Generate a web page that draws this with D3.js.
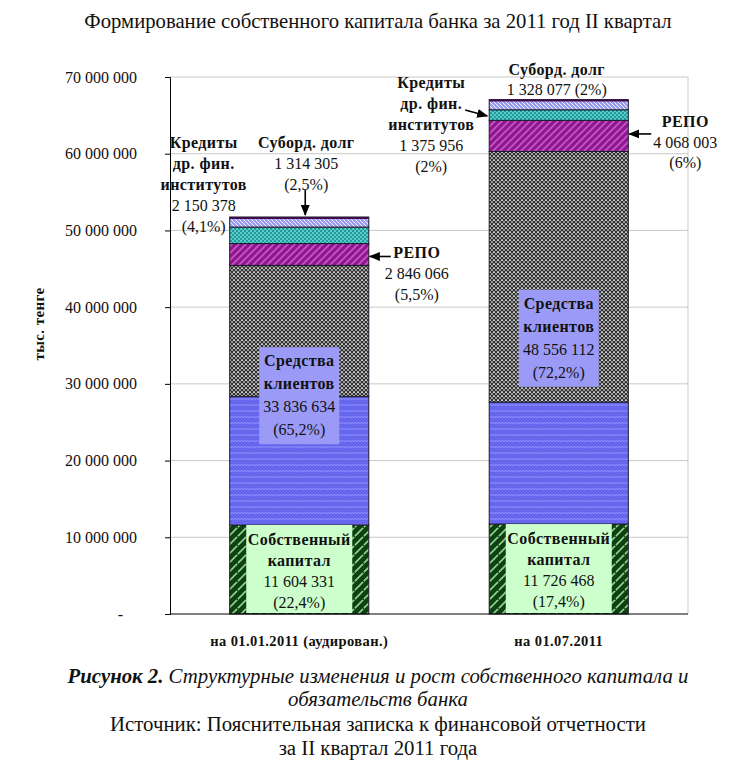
<!DOCTYPE html>
<html><head><meta charset="utf-8">
<script src="https://cdn.jsdelivr.net/npm/d3@7/dist/d3.min.js"></script>
<style>
html,body{margin:0;padding:0;background:#fff;}
svg{display:block;font-family:"Liberation Serif","Times New Roman",serif;}
svg text{font-family:"Liberation Serif","Times New Roman",serif;}
svg text.b{font-weight:bold;letter-spacing:0.4px;}
</style></head>
<body><svg id="c" width="737" height="763"></svg>
<script>
// ---------- data ----------
const categories = ["на 01.01.2011 (аудирован.)", "на 01.07.2011"];
const equity      = [11604331, 11726468];
const clientsBlue = [16730000, 15900000];
const clientsGray = [17106634, 32656112];
const repo        = [2846066, 4068003];
const credits     = [2150378, 1375956];
const subord      = [1314305, 1328077];
const clientsTotal = [33836634, 48556112];
const equityPct  = ["(22,4%)", "(17,4%)"];
const clientsPct = ["(65,2%)", "(72,2%)"];
const repoPct    = ["(5,5%)", "(6%)"];
const creditsPct = ["(4,1%)", "(2%)"];
const subordPct  = ["(2,5%)", "(2%)"];
const yTicks = [0, 10000000, 20000000, 30000000, 40000000, 50000000, 60000000, 70000000];
const title = "Формирование собственного капитала банка за 2011 год II квартал";
const yTitle = "тыс. тенге";

// ---------- setup ----------
const fmt = d3.formatLocale({decimal:",", thousands:"\u00a0", grouping:[3], currency:["",""]}).format(",");
const svg = d3.select("#c");
const L = 170, R = 688, T = 77, B = 614;
const y = d3.scaleLinear().domain([0, 70000000]).range([B, T]);
const x = d3.scaleBand().domain(categories).range([L, R]).paddingInner(0.464).paddingOuter(0.23);

const keys = ["equity","clientsBlue","clientsGray","repo","credits","subord"];
const rows = categories.map((c,i)=>({cat:c, equity:equity[i], clientsBlue:clientsBlue[i], clientsGray:clientsGray[i], repo:repo[i], credits:credits[i], subord:subord[i]}));
const stack = d3.stack().keys(keys)(rows);

// ---------- patterns ----------
const defs = svg.append("defs");
function pat(id, w, h, bg, draw){
  const p = defs.append("pattern").attr("id",id).attr("patternUnits","userSpaceOnUse").attr("width",w).attr("height",h);
  p.append("rect").attr("width",w).attr("height",h).attr("fill",bg);
  draw(p);
}
pat("pEquity", 9, 9, "#0e4012", p=>{
  p.append("path").attr("d","M0,9 L9,0 M-2,2 L2,-2 M7,11 L11,7").attr("stroke","#8ed48e").attr("stroke-width",1.6);
  p.append("path").attr("d","M2,4 L4,6").attr("stroke","#0e4012").attr("stroke-width",1.2);
});
pat("pBlue", 6, 6, "#6767ee", p=>{
  p.append("path").attr("d","M0,4 L1.5,2 L3,4 L4.5,2 L6,4").attr("fill","none").attr("stroke","#8e8eff").attr("stroke-width",1);
});
pat("pGray", 4, 4, "#9a9a9a", p=>{
  p.append("path").attr("d","M0,0 L4,4 M4,0 L0,4").attr("stroke","#262626").attr("stroke-width",0.9);
  p.append("rect").attr("x",1.5).attr("y",0).attr("width",1).attr("height",1).attr("fill","#ffffff");
});
pat("pRepo", 7, 7, "#8d178d", p=>{
  p.append("path").attr("d","M0,7 L7,0 M-1,1 L1,-1 M6,8 L8,6").attr("stroke","#c654c6").attr("stroke-width",1.8);
});
pat("pCredits", 4, 4, "#1f9c9c", p=>{
  p.append("rect").attr("x",0).attr("y",0).attr("width",2).attr("height",2).attr("fill","#5ec9c9");
  p.append("rect").attr("x",2).attr("y",2).attr("width",2).attr("height",2).attr("fill","#5ec9c9");
});
pat("pSubord", 4, 4, "#9d9def", p=>{
  p.append("path").attr("d","M0,0 L4,4 M-1,3 L1,5 M3,-1 L5,1").attr("stroke","#ececff").attr("stroke-width",1);
});
const fills = {equity:"url(#pEquity)", clientsBlue:"url(#pBlue)", clientsGray:"url(#pGray)", repo:"url(#pRepo)", credits:"url(#pCredits)", subord:"url(#pSubord)"};

// ---------- grid ----------
svg.append("g").selectAll("line").data(yTicks.filter(d=>d>0)).join("line")
  .attr("x1",L).attr("x2",R).attr("y1",d=>y(d)).attr("y2",d=>y(d))
  .attr("stroke","#c9c9c9").attr("stroke-width",1);
svg.append("line").attr("x1",R).attr("x2",R).attr("y1",T).attr("y2",B).attr("stroke","#c9c9c9");

// ---------- bars ----------
const gBars = svg.append("g");
stack.forEach(s=>{
  gBars.append("g").selectAll("rect").data(s).join("rect")
    .attr("x",d=>x(d.data.cat)).attr("width",x.bandwidth())
    .attr("y",d=>y(d[1])).attr("height",d=>y(d[0])-y(d[1]))
    .attr("fill",fills[s.key]).attr("stroke","#1b1b2b").attr("stroke-width",1);
});
const topS = stack[stack.length-1];
gBars.append("g").selectAll("line").data(topS).join("line")
  .attr("x1",d=>x(d.data.cat)).attr("x2",d=>x(d.data.cat)+x.bandwidth())
  .attr("y1",d=>y(d[1])+1).attr("y2",d=>y(d[1])+1).attr("stroke","#3b0b45").attr("stroke-width",2);

// ---------- axes ----------
const yAxis = d3.axisLeft(y).tickValues(yTicks).tickSize(5).tickPadding(28)
  .tickFormat(d=> d===0 ? "-" : fmt(d));
const ga = svg.append("g").attr("transform",`translate(${L},0)`).call(yAxis);
ga.attr("font-family",null);
ga.select(".domain").attr("stroke","#000");
ga.selectAll(".tick line").attr("stroke","#000");
ga.selectAll(".tick text").attr("font-size",16).attr("fill","#111");
ga.selectAll(".tick text").filter(d=>d===0).attr("x",-47);
svg.append("line").attr("x1",L).attr("x2",R).attr("y1",B).attr("y2",B).attr("stroke","#000");

const xAxis = d3.axisBottom(x).tickSize(0).tickPadding(22);
const gx = svg.append("g").attr("transform",`translate(0,${B})`).call(xAxis);
gx.attr("font-family",null);
gx.select(".domain").remove();
gx.selectAll(".tick text").attr("class","b").attr("font-size",14.5).attr("fill","#111");

// y title
svg.append("text").attr("class","b").attr("transform",`translate(44,324) rotate(-90)`).attr("text-anchor","middle")
  .attr("font-size",15).attr("fill","#111").text(yTitle);

// title
svg.append("text").attr("x",378).attr("y",28).attr("text-anchor","middle").attr("font-size",20.7).attr("fill","#111").text(title);

// ---------- annotations ----------
function lines(cx, y0, dy, arr){
  const t = svg.append("g");
  arr.forEach((l,i)=>{
    t.append("text").attr("class", l.b ? "b" : null).attr("x",cx).attr("y",y0+i*dy).attr("text-anchor","middle")
      .attr("font-size",16).attr("fill","#111").text(l.t);
  });
}
defs.append("marker").attr("id","arr").attr("viewBox","0 0 10 10").attr("refX",9).attr("refY",5)
  .attr("markerWidth",7).attr("markerHeight",7).attr("orient","auto")
  .append("path").attr("d","M0,1 L10,5 L0,9 Z").attr("fill","#000");
function arrow(x1,y1,x2,y2){
  svg.append("line").attr("x1",x1).attr("y1",y1).attr("x2",x2).attr("y2",y2)
    .attr("stroke","#000").attr("stroke-width",1.6).attr("marker-end","url(#arr)");
}

categories.forEach((c,i)=>{
  const x0 = x(c), x1 = x0 + x.bandwidth(), cx = x0 + x.bandwidth()/2;
  const tEq = equity[i], tCl = tEq + clientsTotal[i], tRe = tCl + repo[i], tCr = tRe + credits[i], tSu = tCr + subord[i];
  const cm = y(tEq + clientsTotal[i]/2);
  svg.append("rect").attr("x",cx-40).attr("y",cm-48).attr("width",80).attr("height",97).attr("fill","#9b9bf7");
  lines(cx, cm-29, 23, [{t:"Средства",b:1},{t:"клиентов",b:1},{t:fmt(clientsTotal[i])},{t:clientsPct[i]}]);
  const eTop = y(tEq);
  svg.append("rect").attr("x",cx-53).attr("y",eTop).attr("width",106).attr("height",B-eTop-1).attr("fill","#ccffcc");
  lines(cx, eTop+20, 21, [{t:"Собственный",b:1},{t:"капитал",b:1},{t:fmt(equity[i])},{t:equityPct[i]}]);

  if(i===0){
    lines(x0-26, 148, 21, [{t:"Кредиты",b:1},{t:"др. фин.",b:1},{t:"институтов",b:1},{t:fmt(credits[i])},{t:creditsPct[i]}]);
    lines(cx+7, 148, 21, [{t:"Суборд. долг",b:1},{t:fmt(subord[i])},{t:subordPct[i]}]);
    arrow(cx+6, 190, cx+6, y(tSu)-2);
    lines(x1+48, 258, 21, [{t:"РЕПО",b:1},{t:fmt(repo[i])},{t:repoPct[i]}]);
    arrow(x1+22, y((tCl+tRe)/2)+2, x1+1, y((tCl+tRe)/2)+2);
  } else {
    lines(x0-58, 88, 21, [{t:"Кредиты",b:1},{t:"др. фин.",b:1},{t:"институтов",b:1},{t:fmt(credits[i])},{t:creditsPct[i]}]);
    arrow(x0-24, 110, x0-2, y((tRe+tCr)/2)+1);
    lines(cx-2, 75, 20, [{t:"Суборд. долг",b:1},{t:fmt(subord[i])+" "+subordPct[i]}]);
    lines(x1+57, 127, 20.5, [{t:"РЕПО",b:1},{t:fmt(repo[i])},{t:repoPct[i]}]);
    arrow(x1+23, y((tCl+tRe)/2)-2, x1+1, y((tCl+tRe)/2)-2);
  }
});

// ---------- caption ----------
const cap = svg.append("g").attr("font-size",20.8).attr("fill","#111");
const c1 = cap.append("text").attr("x",378).attr("y",683).attr("text-anchor","middle").attr("font-style","italic");
c1.append("tspan").attr("font-weight","bold").text("Рисунок 2.");
c1.append("tspan").text(" Структурные изменения и рост собственного капитала и");
cap.append("text").attr("x",378).attr("y",706).attr("text-anchor","middle").attr("font-style","italic").text("обязательств банка");
cap.append("text").attr("x",378).attr("y",731).attr("text-anchor","middle").text("Источник: Пояснительная записка к финансовой отчетности");
cap.append("text").attr("x",378).attr("y",755).attr("text-anchor","middle").text("за II квартал 2011 года");
</script></body></html>
